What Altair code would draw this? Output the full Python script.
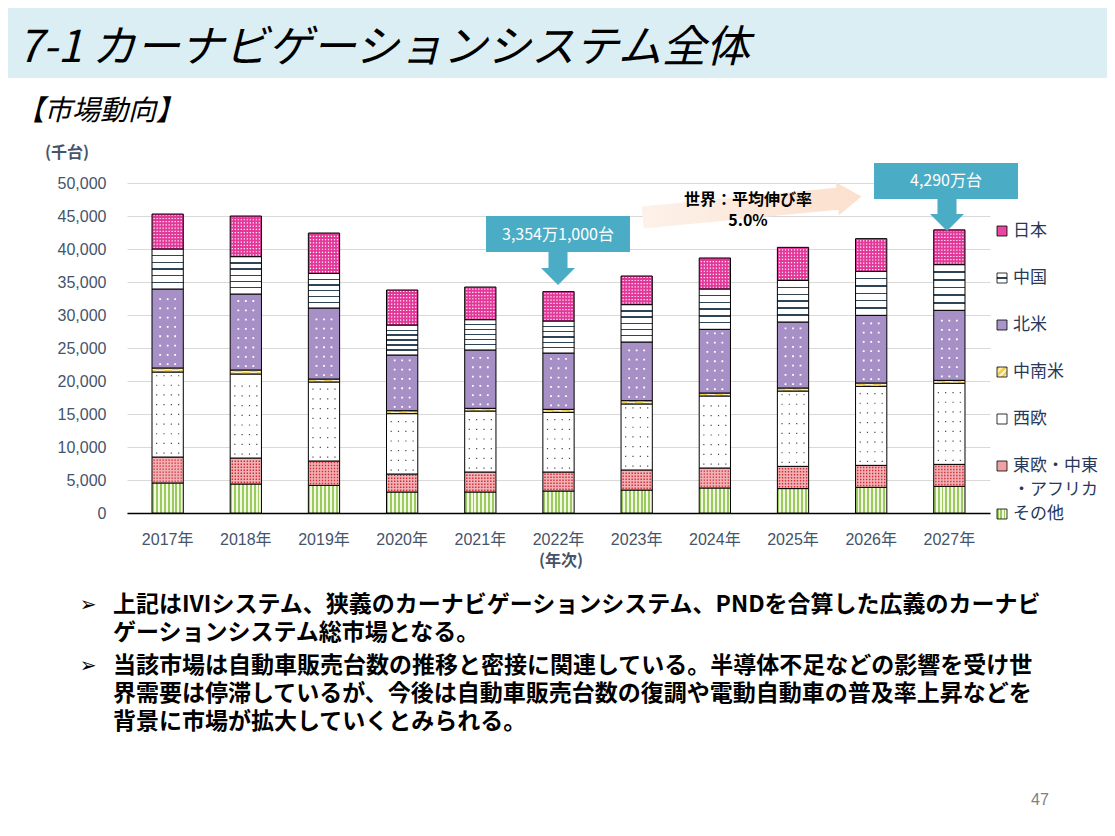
import altair as alt
import pandas as pd

# ---------------- data (千台) ----------------
years = ["2017年", "2018年", "2019年", "2020年", "2021年", "2022年",
         "2023年", "2024年", "2025年", "2026年", "2027年"]
series_names = ["その他", "東欧・中東・アフリカ", "西欧", "中南米", "北米", "中国", "日本"]
sonota    = [4550, 4390, 4190, 3180, 3180, 3330, 3480, 3790, 3700, 3890, 4040]
toou      = [3930, 3940, 3690, 2730, 3030, 2880, 3040, 3030, 3370, 3330, 3330]
seiou     = [12880, 12730, 11970, 9140, 9240, 9040, 10000, 10910, 11410, 11970, 12280]
chunanbei = [610, 610, 450, 450, 410, 460, 500, 450, 460, 510, 450]
hokubei   = [11970, 11510, 10760, 8440, 8840, 8530, 8890, 9650, 10000, 10250, 10610]
chugoku   = [6060, 5660, 5250, 4540, 4590, 4850, 5660, 6110, 6310, 6670, 6920]
nihon     = [5300, 6160, 6110, 5310, 4950, 4450, 4340, 4700, 5000, 4950, 5270]
y_ticks = list(range(0, 50001, 5000))

legend_labels = ["日本", "中国", "北米", "中南米", "西欧", ["東欧・中東", "・アフリカ"], "その他"]
title_text = "7-1 カーナビゲーションシステム全体"
subtitle_text = "【市場動向】"
unit_text = "(千台)"
xtitle_text = "(年次)"
callout_2022 = "3,354万1,000台"
callout_2027 = "4,290万台"
growth_lines = ["世界：平均伸び率", "5.0%"]
bullets = [
    ["上記はIVIシステム、狭義のカーナビゲーションシステム、PNDを合算した広義のカーナビ",
     "ゲーションシステム総市場となる。"],
    ["当該市場は自動車販売台数の推移と密接に関連している。半導体不足などの影響を受け世",
     "界需要は停滞しているが、今後は自動車販売台数の復調や電動自動車の普及率上昇などを",
     "背景に市場が拡大していくとみられる。"],
]
page_no = "47"

rows = []
for i, (name, vals) in enumerate(zip(series_names,
                                     [sonota, toou, seiou, chunanbei, hokubei, chugoku, nihon])):
    for yr, v in zip(years, vals):
        rows.append({"year": yr, "series": name, "order": i, "value": v})
df = pd.DataFrame(rows)
one = pd.DataFrame({"k": [0]})

# ---------------- layout helpers ----------------
OX, OY = 127, 183          # page position of plot origin
W, H = 863, 330


def px(x):
    return x - OX


def py(y):
    return y - OY


AX_COL = "#44546A"
LBL_FONT = "Liberation Sans, Noto Sans CJK JP"
JP = "Noto Sans CJK JP"
BLUE = "#4BACC6"

x_enc = alt.X("year:N", sort=years, title=None,
              scale=alt.Scale(paddingInner=0.6, paddingOuter=0.32),
              axis=alt.Axis(labelAngle=0, ticks=False, domainColor="#000000", domainWidth=1.3,
                            grid=False, labelPadding=18, labelFontSize=16, labelColor=AX_COL,
                            labelFont=LBL_FONT))


def y_enc(field):
    return alt.Y(field, type="quantitative", title=None,
                 scale=alt.Scale(domain=[0, 50000], nice=False),
                 axis=alt.Axis(values=y_ticks, format=",.0f", domain=False, ticks=False, grid=True,
                               gridColor="#D9D9D9", gridWidth=1, labelPadding=21,
                               labelFontSize=16, labelColor=AX_COL, labelFont=LBL_FONT))


def stripes(c1, c2, n, frac, x2, y2):
    stops = []
    for i in range(n):
        a = i / n
        b = (i + frac) / n
        c = (i + 1) / n
        stops += [alt.GradientStop(offset=a, color=c1), alt.GradientStop(offset=b, color=c1),
                  alt.GradientStop(offset=b, color=c2), alt.GradientStop(offset=c, color=c2)]
    return alt.LinearGradient(gradient="linear", stops=stops, x1=0, y1=0, x2=x2, y2=y2)


def hlines(bg, line, n, t):
    stops = [alt.GradientStop(offset=0, color=bg)]
    for k in range(1, n):
        c = k / n
        stops += [alt.GradientStop(offset=c - t / 2, color=bg), alt.GradientStop(offset=c - t / 2, color=line),
                  alt.GradientStop(offset=c + t / 2, color=line), alt.GradientStop(offset=c + t / 2, color=bg)]
    stops.append(alt.GradientStop(offset=1, color=bg))
    return alt.LinearGradient(gradient="linear", stops=stops, x1=0, y1=0, x2=0, y2=1)


green_fill = stripes("#9BCB5E", "#F2F8E3", 8, 0.5, 1, 0)
china_fill = hlines("#FFFFFF", "#2E4457", 6, 0.035)
latam_fill = stripes("#F0CF55", "#FBF1C4", 4, 0.5, 1, 1)

fills = {
    "その他": green_fill,
    "東欧・中東・アフリカ": "#F2B2B5",
    "西欧": "#FFFFFF",
    "中南米": latam_fill,
    "北米": "#A690C6",
    "中国": china_fill,
    "日本": "#E3389A",
}

base = alt.Chart(df).transform_stack(
    stack="value", groupby=["year"], as_=["v0", "v1"],
    sort=[alt.SortField("order", order="ascending")])


def seg(name):
    return base.transform_filter(alt.FieldEqualPredicate(field="series", equal=name))


layers = []

# header band and titles
layers.append(alt.Chart(one).mark_rect(color="#DAEEF3").encode(
    x=alt.value(px(8)), x2=alt.value(px(1107)), y=alt.value(py(8)), y2=alt.value(py(78))))


def text(s, x, y, size, **kw):
    params = dict(text=s, fontSize=size, font=kw.pop("font", JP), align=kw.pop("align", "left"),
                  baseline=kw.pop("baseline", "middle"), color=kw.pop("color", "#000000"))
    params.update(kw)
    return alt.Chart(one).mark_text(**params).encode(x=alt.value(px(x)), y=alt.value(py(y)))


def mtext(lines, x, y_first_mid, size, lh, **kw):
    # multi-line text; y_first_mid is the vertical middle of the first line
    top = y_first_mid + round(0.30 * size) - round(0.79 * size)
    return text(lines, x, top, size, baseline="top", lineHeight=lh, **kw)


layers.append(text(title_text, 18, 62, 44, baseline="alphabetic", fontStyle="italic"))
layers.append(text(subtitle_text, 16, 120, 28, baseline="alphabetic", fontStyle="italic"))
layers.append(text(unit_text, 45, 153, 16, fontWeight="bold", color=AX_COL))
layers.append(text(xtitle_text, 561, 561, 16, fontWeight="bold", color=AX_COL, align="center"))

# bars
for name in series_names:
    layers.append(seg(name).mark_bar(fill=fills[name], stroke="#000000", strokeWidth=1).encode(
        x=x_enc, y=y_enc("v0"), y2=alt.Y2("v1")))


def dots(name, offsets, color, dash, sw, inset=170):
    out = []
    for dx in offsets:
        out.append(seg(name).transform_calculate(a=f"datum.v0 + {inset}", b=f"datum.v1 - {inset}")
                   .mark_rule(color=color, strokeWidth=sw, strokeDash=dash, xOffset=dx, strokeCap="butt")
                   .encode(x=x_enc, y=y_enc("a"), y2=alt.Y2("b")))
    return out


layers += dots("日本", [-13.5 + 3 * i for i in range(10)], "#FFFFFF", [1.2, 2.0], 1.2)
layers += dots("北米", [-7.5, 0, 7.5], "#FFFFFF", [1.8, 7.5], 1.8, inset=450)
layers += dots("西欧", [-11, -3.7, 3.7, 11], "#4A4A4A", [1.2, 8.5], 1.2, inset=500)
layers += dots("東欧・中東・アフリカ", [-13.5 + 3 * i for i in range(10)], "#D22A37", [1.4, 1.6], 1.4)

# callouts
layers.append(alt.Chart(one).mark_rect(color=BLUE).encode(
    x=alt.value(px(486)), x2=alt.value(px(630)), y=alt.value(py(216)), y2=alt.value(py(252))))
layers.append(alt.Chart(one).mark_rect(color=BLUE).encode(
    x=alt.value(px(874)), x2=alt.value(px(1018)), y=alt.value(py(163)), y2=alt.value(py(199))))
arrow_path = "M-0.56,-0.97L0.56,-0.97L0.56,-0.03L1,-0.03L0,0.97L-1,-0.03L-0.56,-0.03Z"
layers.append(alt.Chart(one).mark_point(shape=arrow_path, size=1156, filled=True, color=BLUE,
                                        opacity=1, strokeWidth=0).encode(
    x=alt.value(px(558)), y=alt.value(py(268.5))))
layers.append(alt.Chart(one).mark_point(shape=arrow_path, size=1156, filled=True, color=BLUE,
                                        opacity=1, strokeWidth=0).encode(
    x=alt.value(px(947)), y=alt.value(py(214.5))))
layers.append(text(callout_2022, 558, 235, 16, color="#FFFFFF", align="center"))
layers.append(text(callout_2027, 946, 181, 16, color="#FFFFFF", align="center"))

# growth arrow
peach = alt.LinearGradient(gradient="linear", x1=0, y1=0, x2=1, y2=0,
                           stops=[alt.GradientStop(offset=0, color="#FDF1E9"),
                                  alt.GradientStop(offset=1, color="#FBE0CD")])
growth_path = "M-1,-0.1L0.78,-0.1L0.78,-0.15L1,0L0.78,0.15L0.78,0.1L-1,0.1Z"
layers.append(alt.Chart(one).mark_point(shape=growth_path, size=48400, filled=True, fill=peach,
                                        opacity=1, strokeWidth=0, angle=354.5).encode(
    x=alt.value(px(752)), y=alt.value(py(207))))
layers.append(mtext(growth_lines, 748, 200, 16, 21, fontWeight="bold", align="center"))

# legend
leg_fills = ["#E8479F", hlines("#FFFFFF", "#2E4457", 2, 0.12), "#A996C8",
             stripes("#F0CF55", "#FBF1C4", 3, 0.5, 1, 1), "#FFFFFF", "#EFA2A6",
             stripes("#9BCB5E", "#F2F8E3", 3, 0.5, 1, 0)]
leg_y = [231, 278, 325, 372, 419, 466, 514]
LEG_COL = "#27385A"
for lab, f, yy in zip(legend_labels, leg_fills, leg_y):
    layers.append(alt.Chart(one).mark_rect(fill=f, stroke="#000000", strokeWidth=0.8).encode(
        x=alt.value(px(997)), x2=alt.value(px(1007)), y=alt.value(py(yy - 5)), y2=alt.value(py(yy + 5))))
    if isinstance(lab, list):
        layers.append(mtext(lab, 1013, yy, 17, 24, color=LEG_COL))
    else:
        layers.append(text(lab, 1013, yy, 17, color=LEG_COL))

# bullets
for lines, yy in zip(bullets, [605, 666]):
    layers.append(mtext(lines, 113, yy, 23, 28, fontWeight="bold"))
    layers.append(text("➢", 88, yy, 20, align="center", font="DejaVu Sans"))

layers.append(text(page_no, 1040, 800, 16, color="#808080", align="center", font="Liberation Sans"))

chart = alt.layer(*layers).properties(width=W, height=H, padding=0, background="white") \
    .configure_view(stroke=None)

chart.save("out.html", embed_options={"renderer": "svg", "actions": False})
